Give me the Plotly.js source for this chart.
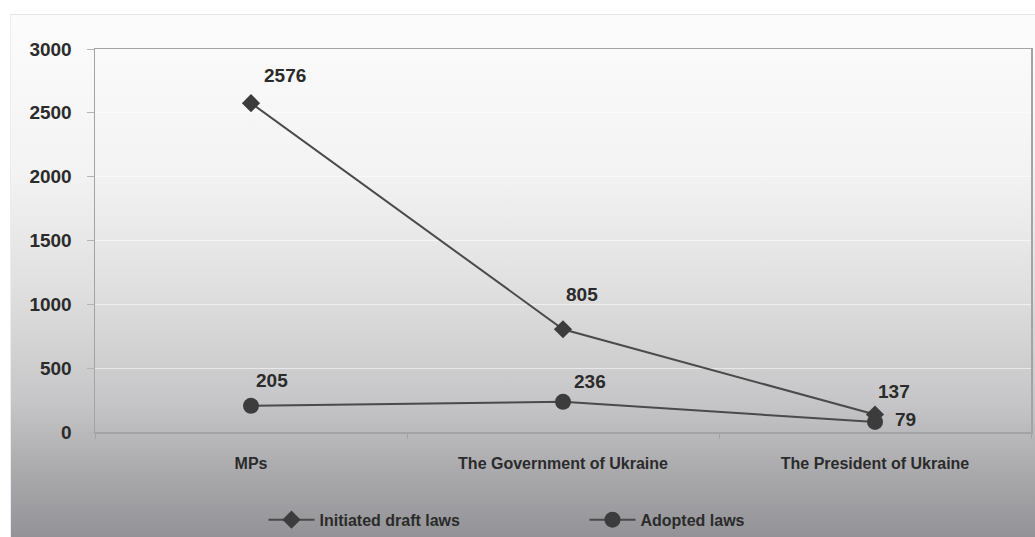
<!DOCTYPE html>
<html>
<head>
<meta charset="utf-8">
<script src="https://cdn.plot.ly/plotly-3.0.1.min.js"></script>
<style>
  html, body { margin: 0; padding: 0; background: #ffffff; }
  #wrap { position: relative; width: 1035px; height: 537px; overflow: hidden; }
  #backdrop {
    position: absolute; left: 10px; top: 14px; right: 0; bottom: 0;
    border-top: 1px solid #e6e6e6; border-left: 1px solid #ececec;
    background: linear-gradient(to bottom, #fcfcfc 0%, #f3f3f3 30%, #e0e0e0 52%, #c6c6c8 74%, #a9a9ac 88%, #939397 100%);
  }
  #chart { position: absolute; left: 0; top: 0; width: 1035px; height: 537px; }
</style>
</head>
<body>
<div id="wrap">
  <div id="backdrop"></div>
  <div id="chart"></div>
</div>
<script>
// Sources of legislative initiative
const categories = ["MPs", "The Government of Ukraine", "The President of Ukraine"];
const initiatedDraftLaws = [2576, 805, 137];
const adoptedLaws = [205, 236, 79];
const seriesNames = ["Initiated draft laws", "Adopted laws"];

const FONT = "Liberation Sans, Arial, sans-serif";
const ink = "#2b2b2b";

const traces = [
  {
    x: categories, y: initiatedDraftLaws, name: seriesNames[0],
    type: "scatter", mode: "lines+markers",
    line: { color: "#4a4a4a", width: 2 },
    marker: { symbol: "diamond", size: 14, color: "#3c3c3c" },
    hoverinfo: "x+y"
  },
  {
    x: categories, y: adoptedLaws, name: seriesNames[1],
    type: "scatter", mode: "lines+markers",
    line: { color: "#4a4a4a", width: 2 },
    marker: { symbol: "circle", size: 16, color: "#3c3c3c" },
    hoverinfo: "x+y"
  }
];

// value labels placed beside each marker (pixel offsets)
const initiatedShift = [[34, 28], [19, 35], [19, 23]];
const adoptedShift = [[21, 25], [27, 20], [30, 2]];

function valueLabels(values, shifts) {
  return values.map((v, i) => ({
    x: categories[i], y: v, xref: "x", yref: "y",
    text: String(v), showarrow: false,
    xanchor: "center", yanchor: "middle",
    xshift: shifts[i][0], yshift: shifts[i][1],
    font: { family: FONT, size: 19, weight: "bold", color: ink }
  }));
}

const layout = {
  width: 1035, height: 537,
  margin: { l: 95, r: 4, t: 49, b: 105 },
  paper_bgcolor: "rgba(0,0,0,0)",
  plot_bgcolor: "rgba(0,0,0,0)",
  showlegend: true,
  font: { family: FONT, size: 16, color: ink },
  xaxis: {
    type: "category",
    automargin: false,
    range: [-0.5, 2.5],
    showgrid: false, zeroline: false,
    showline: true, linecolor: "#a3a3a3", linewidth: 1.5, mirror: true,
    ticks: "outside", tickson: "boundaries", ticklen: 5, tickcolor: "#a3a3a3",
    ticklabelstandoff: 16,
    tickfont: { family: FONT, size: 16, weight: "bold", color: ink }
  },
  yaxis: {
    automargin: false,
    range: [0, 3000], dtick: 500, tick0: 0,
    showgrid: true, gridcolor: "rgba(255,255,255,0.55)", gridwidth: 1,
    zeroline: false,
    showline: true, linecolor: "#a3a3a3", linewidth: 1.5, mirror: true,
    ticks: "outside", ticklen: 7, tickcolor: "#b5b5b5",
    ticklabelstandoff: 11,
    tickfont: { family: FONT, size: 19, weight: "bold", color: ink }
  },
  legend: {
    orientation: "h",
    x: 0.18, xanchor: "left",
    yref: "container",
    y: 0.032, yanchor: "middle",
    bgcolor: "rgba(0,0,0,0)",
    itemwidth: 46,
    entrywidth: 260,
    font: { family: FONT, size: 16, weight: "bold", color: ink }
  },
  annotations: valueLabels(initiatedDraftLaws, initiatedShift)
    .concat(valueLabels(adoptedLaws, adoptedShift))
};

Plotly.newPlot("chart", traces, layout, { displayModeBar: false, staticPlot: true });
</script>
</body>
</html>
